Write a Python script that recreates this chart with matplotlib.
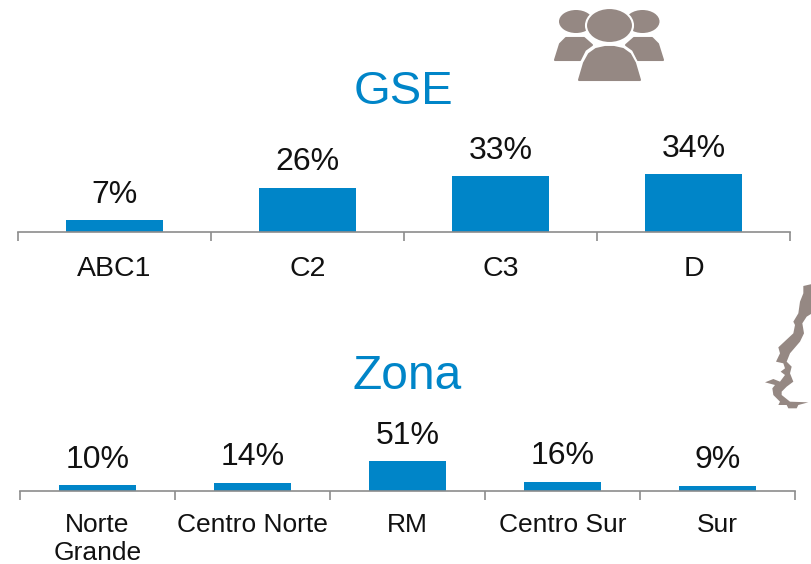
import matplotlib
matplotlib.use("Agg")
import matplotlib.pyplot as plt
from matplotlib.patches import Ellipse, Polygon

plt.rcParams["font.family"] = ["Liberation Sans", "DejaVu Sans"]

# --------------------------------------------------------------
# Data
# --------------------------------------------------------------

gse_labels = ["ABC1", "C2", "C3", "D"]
gse_values = [7, 26, 33, 34]

zona_labels = ["Norte\nGrande", "Centro Norte", "RM", "Centro Sur", "Sur"]
zona_values = [10, 14, 51, 16, 9]

BLUE = "#0085C8"
GREY = "#8C8C8C"
ICON = "#958883"
W, H = 812, 564

fig = plt.figure(figsize=(W / 100, H / 100), dpi=100)


def px_axes(left, right, bottom, top):
    return fig.add_axes([left / W, 1 - bottom / H, (right - left) / W, (bottom - top) / H])


def bar_panel(ax, labels, values, ymax, tick_size, pad):
    n = len(labels)
    ax.bar(range(n), values, width=0.5, color=BLUE)
    ax.set_xlim(-0.5, n - 0.5)
    ax.set_ylim(0, ymax)
    ax.patch.set_alpha(0)
    for side in ["top", "left", "right"]:
        ax.spines[side].set_visible(False)
    ax.spines["bottom"].set_color(GREY)
    ax.spines["bottom"].set_linewidth(1.2)
    ax.set_yticks([])
    # separators on the boundaries, labels in the middle of each category
    ax.set_xticks([i - 0.5 for i in range(n + 1)])
    ax.set_xticklabels([])
    ax.tick_params(axis="x", which="major", length=6.5, width=1.2, color=GREY)
    ax.set_xticks(range(n), minor=True)
    ax.set_xticklabels(labels, minor=True, fontsize=tick_size, color="#111111", linespacing=1.18)
    ax.tick_params(axis="x", which="minor", length=0, pad=pad)
    for i, v in enumerate(values):
        ax.annotate(f"{v}%", (i, v), xytext=(0, 12.5), textcoords="offset points",
                    ha="center", va="baseline", fontsize=23, color="#111111")


# --------------------------------------------------------------
# Bars
# --------------------------------------------------------------

ax_gse = px_axes(18, 790, 232, 132)
bar_panel(ax_gse, gse_labels, gse_values, 100 / 1.7, 20.5, 17.5)

ax_zona = px_axes(20, 795, 491, 391)
bar_panel(ax_zona, zona_labels, zona_values, 100 / 0.59, 19, 16)

# --------------------------------------------------------------
# Titles and icons, on an overlay in pixel coordinates
# --------------------------------------------------------------

over = fig.add_axes([0, 0, 1, 1], zorder=-1)
over.set_xlim(0, W)
over.set_ylim(H, 0)
over.axis("off")

over.text(403, 104, "GSE", fontsize=34, color=BLUE, ha="center", va="baseline")
over.text(407, 389, "Zona", fontsize=34.5, color=BLUE, ha="center", va="baseline")

# people icon
for cx in [576, 642.5]:
    over.add_patch(Ellipse((cx, 21.5), 34, 23, color=ICON, lw=0))
for pts in (
    [(555, 60), (560, 44), (566, 38), (584, 38), (592, 45), (585, 50), (580, 60)],
    [(663, 60), (658, 44), (652, 38), (634, 38), (626, 45), (633, 50), (638, 60)],
):
    over.add_patch(Polygon(pts, closed=True, fc=ICON, ec=ICON, lw=1.5, joinstyle="round"))
over.add_patch(Ellipse((609.5, 25.5), 47, 35, fc=ICON, ec="white", lw=1.5))
center_body = [(579, 80), (584, 63), (589, 54), (596, 49), (605, 47), (614, 47), (623, 49),
               (630, 54), (635, 63), (640, 80)]
over.add_patch(Polygon(center_body, closed=True, fc=ICON, ec="white", lw=4, joinstyle="round"))
over.add_patch(Polygon(center_body, closed=True, fc=ICON, ec=ICON, lw=1.5, joinstyle="round"))

# map of Chile
chile_zoom = [(190, 48), (216, 42), (216, 130), (200, 140), (187, 160), (192, 190), (180, 215),
              (150, 250), (140, 275), (155, 290), (150, 310), (160, 335), (140, 350), (125, 365),
              (125, 375), (150, 395), (205, 397), (175, 405), (170, 415), (145, 415), (140, 405),
              (115, 405), (120, 395), (100, 375), (97, 355), (105, 345), (75, 337), (100, 327),
              (120, 335), (135, 315), (122, 305), (135, 295), (130, 280), (108, 275), (120, 250),
              (115, 232), (130, 218), (160, 190), (165, 165), (160, 155), (175, 130), (180, 95),
              (190, 70)]
over.add_patch(Polygon([(740 + x / 3, 270 + y / 3) for x, y in chile_zoom], closed=True, fc=ICON, lw=0))

fig.savefig("out.png", dpi=100)
